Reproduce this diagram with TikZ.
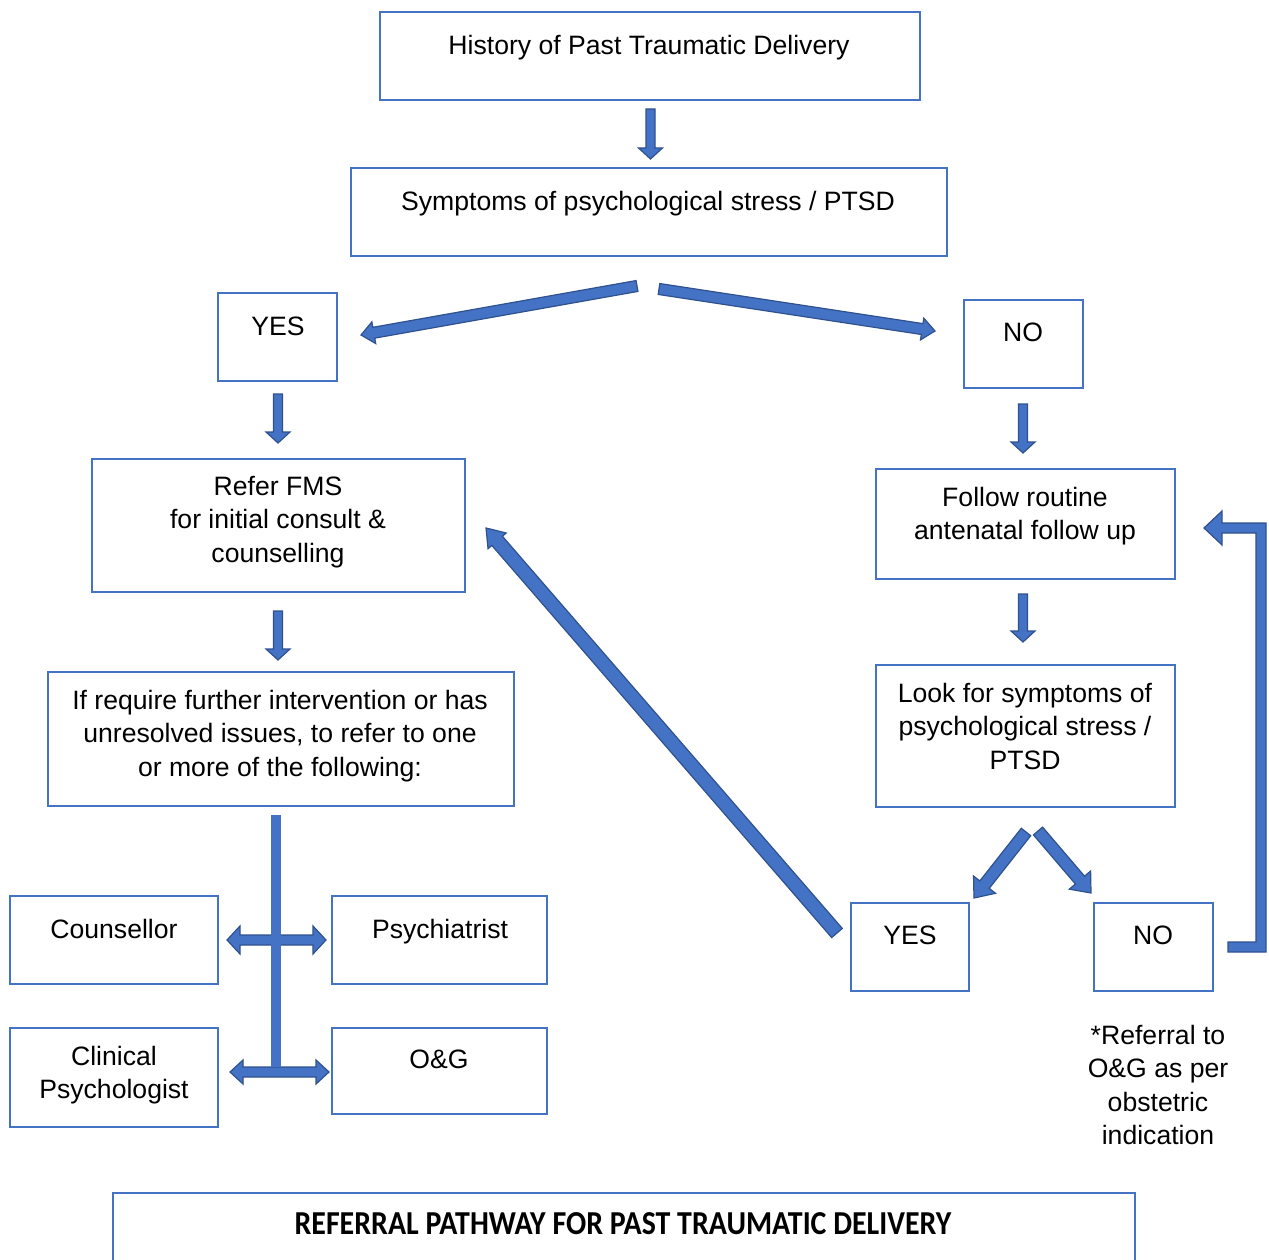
\documentclass[tikz,border=0pt]{standalone}
\usepackage{fontspec}
\setmainfont{Liberation Sans}
\newfontfamily\titlefont{Carlito}
\usetikzlibrary{calc}

\definecolor{boxblue}{HTML}{4472C4}
\definecolor{arrowedge}{HTML}{2F528F}

\tikzset{
  box/.style={draw=boxblue, line width=2pt, inner sep=0pt, anchor=north west},
  txt/.style={anchor=north, inner sep=0pt, align=center,
    font=\fontsize{26.6}{33.3}\selectfont},
  blockarrow/.style={fill=boxblue, draw=arrowedge, line width=1.2pt, line join=miter},
}

% single-headed block arrow: tail, tip, shaft half width, head half width, head length
\newcommand\blkarrow[5]{%
  \coordinate (ba-p) at ($(#2)!#5!(#1)$);
  \path[blockarrow] ($(#1)!#3!90:(#2)$) -- ($(ba-p)!#3!-90:(#1)$)
    -- ($(ba-p)!#4!-90:(#1)$) -- (#2) -- ($(ba-p)!#4!90:(#1)$)
    -- ($(ba-p)!#3!90:(#1)$) -- ($(#1)!#3!-90:(#2)$) -- cycle;
}
% double-headed block arrow between two tips
\newcommand\dblarrow[5]{%
  \coordinate (da-p) at ($(#1)!#5!(#2)$);
  \coordinate (da-q) at ($(#2)!#5!(#1)$);
  \path[blockarrow] (#1) -- ($(da-p)!#4!90:(#2)$) -- ($(da-p)!#3!90:(#2)$)
    -- ($(da-q)!#3!-90:(#1)$) -- ($(da-q)!#4!-90:(#1)$) -- (#2)
    -- ($(da-q)!#4!90:(#1)$) -- ($(da-q)!#3!90:(#1)$)
    -- ($(da-p)!#3!-90:(#2)$) -- ($(da-p)!#4!-90:(#2)$) -- cycle;
}

\begin{document}
\begin{tikzpicture}[x=1pt, y=-1pt]
\useasboundingbox (0,0) rectangle (1269,1260);

% ---------- boxes ----------
\node[box, minimum width=540, minimum height=88] (hist) at (379,11) {};
\node[box, minimum width=596, minimum height=88] (symp) at (350,167) {};
\node[box, minimum width=119, minimum height=88] (yes1) at (217,292) {};
\node[box, minimum width=119, minimum height=88] (no1) at (963,299) {};
\node[box, minimum width=373, minimum height=133] (fms) at (91,458) {};
\node[box, minimum width=299, minimum height=110] (routine) at (875,468) {};
\node[box, minimum width=466, minimum height=134] (further) at (47,671) {};
\node[box, minimum width=299, minimum height=142] (look) at (875,664) {};
\node[box, minimum width=208, minimum height=88] (couns) at (9,895) {};
\node[box, minimum width=215, minimum height=88] (psych) at (331,895) {};
\node[box, minimum width=208, minimum height=99] (clin) at (9,1027) {};
\node[box, minimum width=215, minimum height=86] (og) at (331,1027) {};
\node[box, minimum width=118, minimum height=88] (yes2) at (850,902) {};
\node[box, minimum width=119, minimum height=88] (no2) at (1093,902) {};
\node[box, minimum width=1022, minimum height=90] (title) at (112,1192) {};

% ---------- texts ----------
\node[txt] (hist-t) at (649,35) {History of Past Traumatic Delivery};
\node[txt] (symp-t) at (648,191) {Symptoms of psychological stress / PTSD};
\node[txt] (yes1-t) at (278,317) {YES};
\node[txt] (no1-t) at (1023,323) {NO};
\node[txt] (fms-t) at (278,476) {Refer FMS\\for initial consult \&\\counselling};
\node[txt] (routine-t) at (1025,487) {Follow routine\\antenatal follow up};
\node[txt] (further-t) at (280,690) {If require further intervention or has\\unresolved issues, to refer to one\\or more of the following:};
\node[txt] (look-t) at (1025,683) {Look for symptoms of\\psychological stress /\\PTSD};
\node[txt] (couns-t) at (114,919) {Counsellor};
\node[txt] (psych-t) at (440,919) {Psychiatrist};
\node[txt] (clin-t) at (114,1046) {Clinical\\Psychologist};
\node[txt] (og-t) at (439,1050) {O\&G};
\node[txt] (yes2-t) at (910,926) {YES};
\node[txt] (no2-t) at (1153,926) {NO};
\node[txt] (note-t) at (1158,1025) {*Referral to\\O\&G as per\\obstetric\\indication};
\node[anchor=base, inner sep=0pt, font=\titlefont\bfseries\fontsize{29.9}{34}\selectfont]
  (title-t) at (623,1234) {\scalebox{1}[1.12]{REFERRAL PATHWAY FOR PAST TRAUMATIC DELIVERY}};

% ---------- arrow end points ----------
\coordinate (a1s) at (650.5,109);  \coordinate (a1e) at (650.5,159);
\coordinate (a2s) at (637,286);    \coordinate (a2e) at (361,335);
\coordinate (a3s) at (659,289);    \coordinate (a3e) at (935,331);
\coordinate (a4s) at (278,394);    \coordinate (a4e) at (278,443);
\coordinate (a5s) at (1023,404);   \coordinate (a5e) at (1023,453);
\coordinate (a6s) at (278,611);    \coordinate (a6e) at (278,660);
\coordinate (a7s) at (1023,594);   \coordinate (a7e) at (1023,642);
\coordinate (a8s) at (1026,832);   \coordinate (a8e) at (974,898);
\coordinate (a9s) at (1038,831);   \coordinate (a9e) at (1091,893);
\coordinate (a10s) at (837,933);   \coordinate (a10e) at (486,528);
\coordinate (c1l) at (227,940);    \coordinate (c1r) at (326,940);
\coordinate (c2l) at (230,1072);   \coordinate (c2r) at (329,1072);

% ---------- flow arrows ----------
\blkarrow{a1s}{a1e}{4.5pt}{12pt}{11pt}
\blkarrow{a2s}{a2e}{5.5pt}{11pt}{13pt}
\blkarrow{a3s}{a3e}{5.5pt}{11pt}{13pt}
\blkarrow{a4s}{a4e}{4.5pt}{12pt}{11pt}
\blkarrow{a5s}{a5e}{4.5pt}{12pt}{11pt}
\blkarrow{a6s}{a6e}{4.5pt}{12pt}{11pt}
\blkarrow{a7s}{a7e}{4.5pt}{12pt}{11pt}
\blkarrow{a8s}{a8e}{6pt}{14pt}{17pt}
\blkarrow{a9s}{a9e}{6pt}{14pt}{17pt}
\blkarrow{a10s}{a10e}{7pt}{12pt}{17pt}

% referral branches to the four specialists
\dblarrow{c1l}{c1r}{5pt}{14pt}{13pt}
\dblarrow{c2l}{c2r}{5pt}{12pt}{13pt}
\fill[boxblue] (271,815) rectangle (281,1067);

% loop back from NO to routine follow up
\path[blockarrow] (1228,942) -- (1256,942) -- (1256,533) -- (1222,533) -- (1222,545)
  -- (1204,528) -- (1222,511) -- (1222,523) -- (1266,523) -- (1266,952)
  -- (1228,952) -- cycle;
\end{tikzpicture}
\end{document}
